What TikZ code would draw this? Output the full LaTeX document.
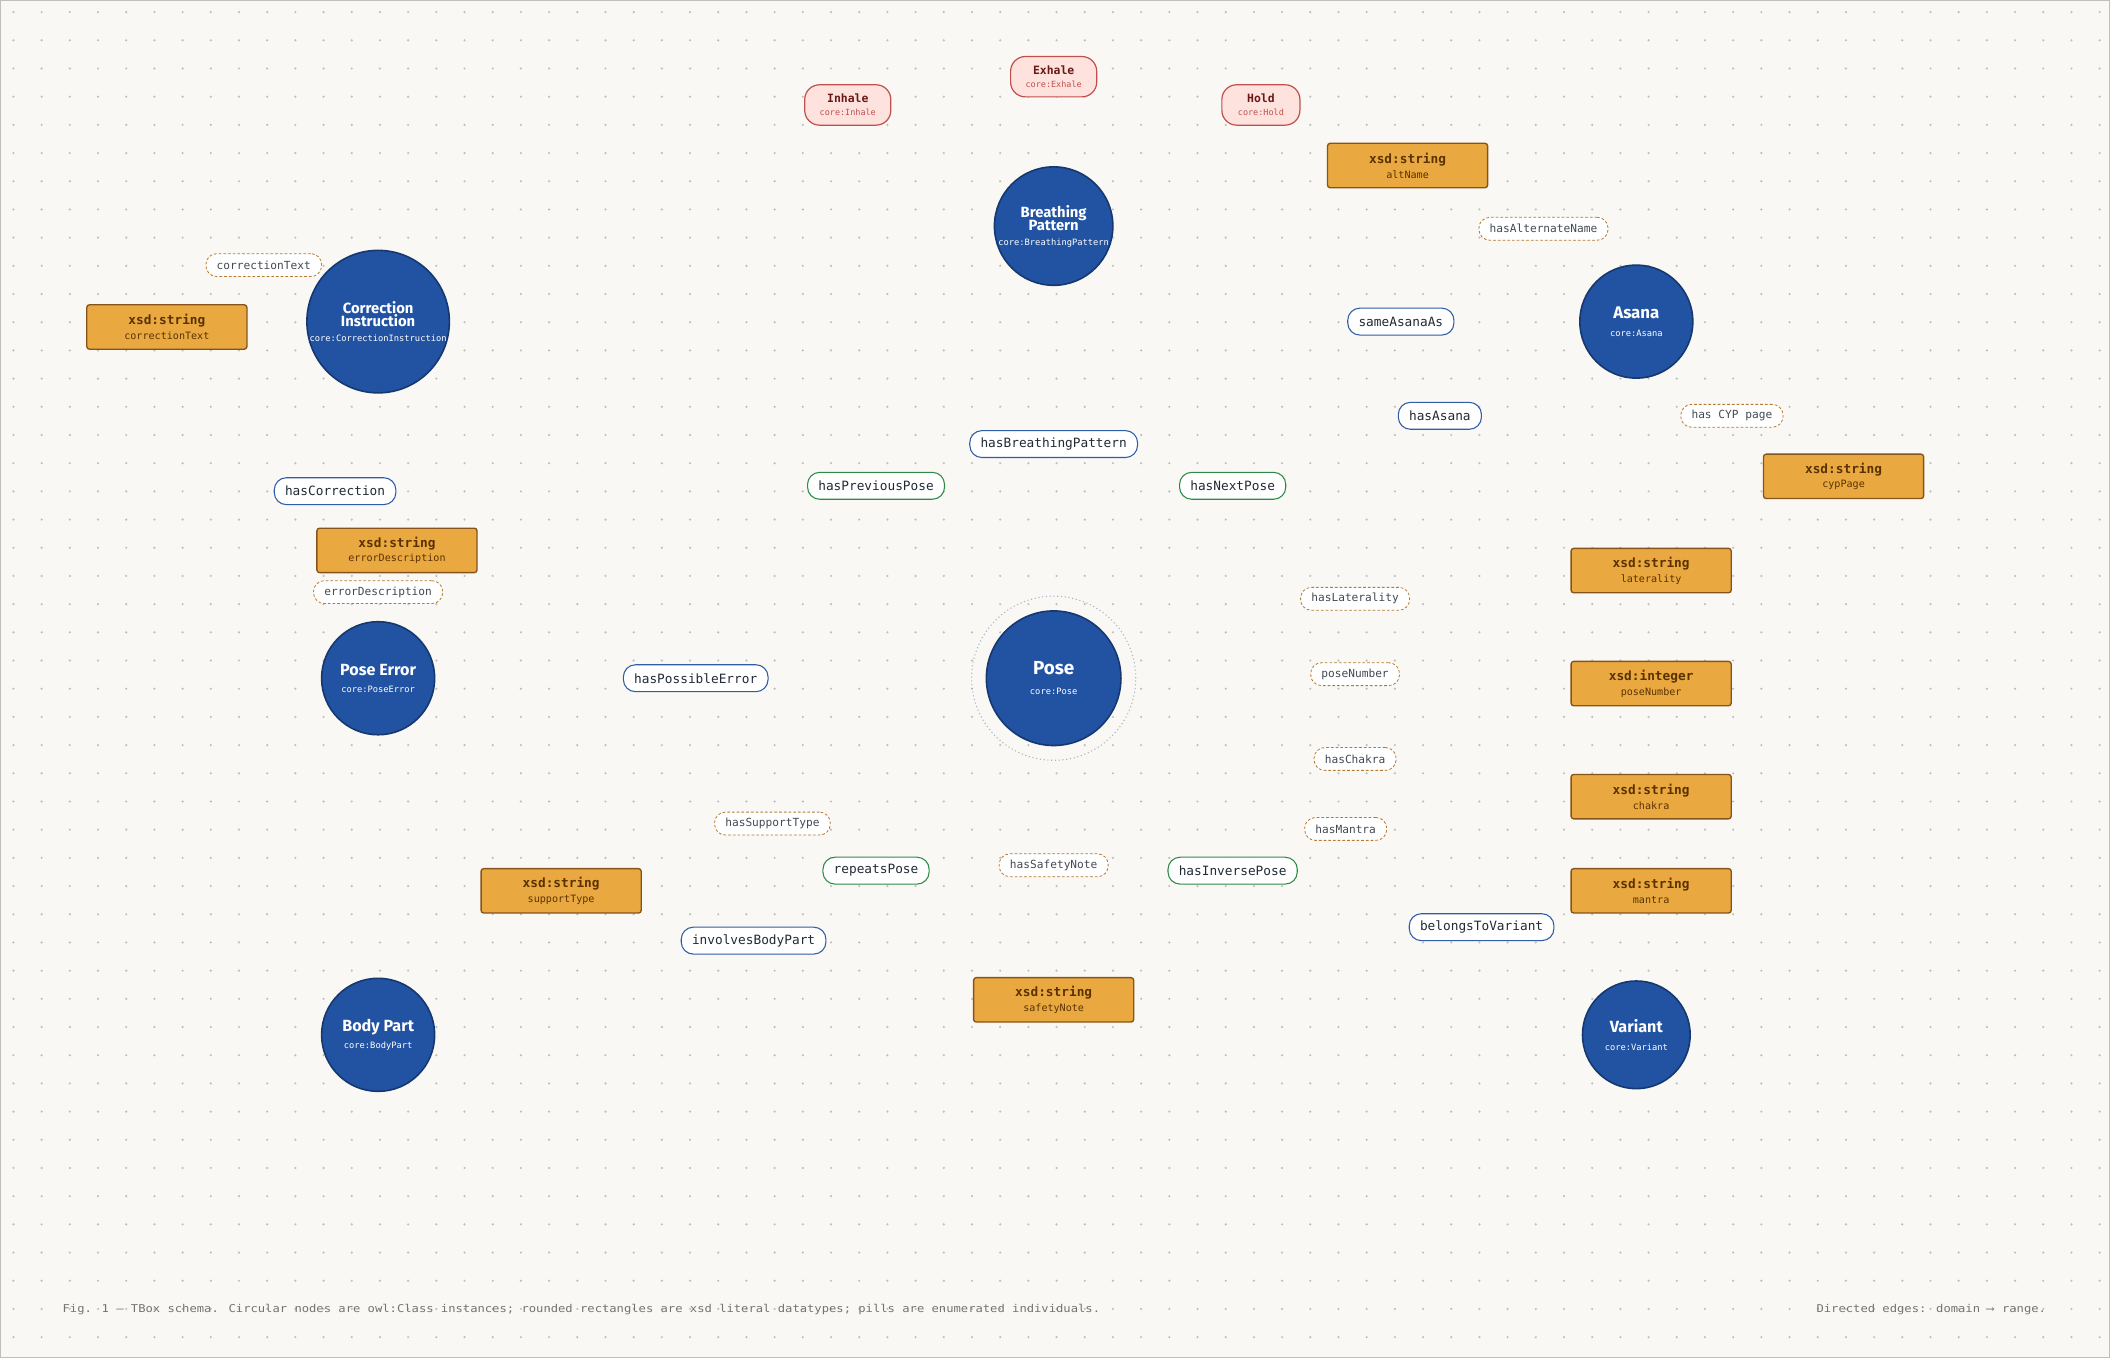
\documentclass[tikz,border=0pt]{standalone}
\usepackage{fontspec}
\setmainfont{DejaVu Sans Mono}
\newfontfamily\titlef{Fira Sans}
\newfontfamily\monof{DejaVu Sans Mono}
\usetikzlibrary{arrows.meta,backgrounds}
\definecolor{bgc}{HTML}{FAF8F4}
\definecolor{clsf}{HTML}{2253A3}
\definecolor{clsd}{HTML}{15386F}
\definecolor{litf}{HTML}{E9A940}
\definecolor{litd}{HTML}{86541A}
\definecolor{littx}{HTML}{5A3100}
\definecolor{edgb}{HTML}{2F5DA8}
\definecolor{edgg}{HTML}{2E8B47}
\definecolor{edgo}{HTML}{B57A30}
\definecolor{enf}{HTML}{FDE2DE}
\definecolor{end}{HTML}{C0504D}
\definecolor{entx}{HTML}{6A1A16}
\definecolor{txt}{HTML}{222A35}
\tikzset{
 cls/.style={circle,fill=clsf,draw=clsd,line width=1.2pt,text=white,inner sep=0pt,align=center,font=\titlef\bfseries\fontsize{11}{12}\selectfont},
 lit/.style={rectangle,rounded corners=2pt,fill=litf,draw=litd,line width=1pt,minimum width=119pt,minimum height=33pt,align=center,text=littx,inner sep=1pt},
 enum/.style={rectangle,rounded corners=11pt,fill=enf,draw=end,line width=0.9pt,minimum width=64pt,minimum height=30pt,align=center,text=entx,inner sep=1pt},
 lbl/.style={rectangle,rounded corners=9pt,fill=white,draw=edgb,line width=0.8pt,minimum height=20pt,inner xsep=8pt,text=txt,font=\monof\fontsize{9.5}{10}\selectfont},
 glbl/.style={lbl,draw=edgg},
 olbl/.style={rectangle,rounded corners=8pt,fill=white,draw=edgo,dashed,dash pattern=on 2pt off 1.5pt,line width=0.6pt,minimum height=17pt,inner xsep=8pt,text=txt!85,font=\monof\fontsize{8.3}{9}\selectfont},
 be/.style={draw=edgb,line width=1.1pt},
 ge/.style={draw=edgg,line width=1.1pt},
 oe/.style={draw=edgo,line width=1pt,dash pattern=on 3pt off 2.5pt},
 re/.style={draw=end,line width=1pt,dotted},
 tip/.style={-{Stealth[length=8pt,width=7pt]}},
}
\newcommand{\ctitle}[2]{#1\\[-1pt]{\monof\fontsize{6.5}{8}\selectfont\mdseries #2}}
\newcommand{\lt}[2]{{\bfseries\fontsize{9.5}{11}\selectfont #1}\\[-1pt]{\fontsize{7.5}{9}\selectfont #2}}
\newcommand{\en}[2]{{\bfseries\fontsize{8.5}{10}\selectfont #1}\\[-2pt]{\fontsize{6.3}{8}\selectfont\color{end} #2}}
\begin{document}
\begin{tikzpicture}[x=1pt,y=-1pt]
\useasboundingbox (0,0) rectangle (1568,1009);
\fill[bgc] (0,0) rectangle (1568,1009);
\draw[black!25,line width=0.8pt] (0.5,0.5) rectangle (1567.5,1008.5);
\foreach \i in {0,...,74}{\foreach \j in {0,...,47}{\fill[black!25] (10+\i*20.95,9+\j*20.95) circle (0.9pt);}}
% classes
\node[cls,minimum size=100pt,font=\titlef\bfseries\fontsize{14}{16}\selectfont] (pose) at (783,504) {\ctitle{Pose}{core:Pose}};
\draw[black!25!clsf!40,dotted,line width=0.8pt] (pose.center) circle (61pt);
\node[cls,minimum size=88pt] (bp) at (783,168) {\ctitle{Breathing\\[-2pt]Pattern}{core:BreathingPattern}};
\node[cls,minimum size=88pt] (corr) at (281,239) {\ctitle{Correction\\[-2pt]Instruction}{core:CorrectionInstruction}};
\node[cls,minimum size=84pt,font=\titlef\bfseries\fontsize{12.5}{14}\selectfont] (asana) at (1216,239) {\ctitle{Asana}{core:Asana}};
\node[cls,minimum size=84pt,font=\titlef\bfseries\fontsize{12}{14}\selectfont] (perr) at (281,504) {\ctitle{Pose Error}{core:PoseError}};
\node[cls,minimum size=84pt,font=\titlef\bfseries\fontsize{12}{14}\selectfont] (body) at (281,769) {\ctitle{Body Part}{core:BodyPart}};
\node[cls,minimum size=80pt,font=\titlef\bfseries\fontsize{12}{14}\selectfont] (var) at (1216,769) {\ctitle{Variant}{core:Variant}};
% enumerations
\node[enum] (inh) at (630,78) {\en{Inhale}{core:Inhale}};
\node[enum] (exh) at (783,57) {\en{Exhale}{core:Exhale}};
\node[enum,minimum width=58pt] (hold) at (937,78) {\en{Hold}{core:Hold}};
% literals
\node[lit] (alt) at (1046,123) {\lt{xsd:string}{altName}};
\node[lit] (ctext) at (124,243) {\lt{xsd:string}{correctionText}};
\node[lit] (edesc) at (295,409) {\lt{xsd:string}{errorDescription}};
\node[lit] (cyp) at (1370,354) {\lt{xsd:string}{cypPage}};
\node[lit] (lat) at (1227,424) {\lt{xsd:string}{laterality}};
\node[lit] (pnum) at (1227,508) {\lt{xsd:integer}{poseNumber}};
\node[lit] (chak) at (1227,592) {\lt{xsd:string}{chakra}};
\node[lit] (mant) at (1227,662) {\lt{xsd:string}{mantra}};
\node[lit] (supp) at (417,662) {\lt{xsd:string}{supportType}};
\node[lit] (safe) at (783,743) {\lt{xsd:string}{safetyNote}};
% edges
\begin{scope}[on background layer]
\draw[re] (bp.128) -- (inh.-30);
\draw[re] (bp.north) -- (exh.south);
\draw[re] (bp.52) -- (hold.-150);
\draw[be,tip] (pose) -- (bp);
\draw[be,tip] (pose) -- (perr);
\draw[be] (pose.45) -- (1070,309);
\draw[be,tip] (1070,309) to[out=25,in=205] (asana.213);
\draw[be,tip] (pose.226) to[out=218,in=17] (body.20);
\draw[be,tip] (pose.-38) to[out=-30,in=150] (var.140);
\draw[be,tip] (perr.105) to[out=100,in=-95] (249,365) to[out=85,in=-100] (corr.262);
\draw[be] (asana.152) .. controls (1140,200) and (1100,205) .. (1090,229);
\draw[be,tip] (1090,249) .. controls (1100,272) and (1140,270) .. (asana.200);
% green loops
\draw[ge,tip] (638,371) to[out=-85,in=150] (pose.151);
\draw[ge] (700,371) to[out=-60,in=125] (pose.133);
\draw[ge] (882,371) to[out=-120,in=55] (pose.47);
\draw[ge,tip] (930,371) to[out=-95,in=30] (pose.29);
\draw[ge,tip] (638,637) to[out=85,in=210] (pose.211);
\draw[ge] (658,637) to[out=40,in=235] (pose.226);
\draw[ge,tip] (930,637) to[out=95,in=-30] (pose.-29);
\draw[ge] (910,637) to[out=140,in=-55] (pose.-47);
% orange
\draw[oe,tip] (pose.10) -- (lat.west);
\draw[oe,tip] (pose.0) -- (pnum.west);
\draw[oe,tip] (pose.-10) -- (chak.west);
\draw[oe,tip] (pose.-24) -- (mant.west);
\draw[oe,tip] (pose.south) -- (safe.north);
\draw[oe] (pose.222) -- (supp.20);
\draw[oe] (ctext.east) -- (corr.west);
\draw[oe] (perr.north) -- (edesc.south);
\draw[oe] (alt.south east) -- (asana.125);
\draw[oe] (asana.-45) -- (cyp.north west);
\end{scope}
% labels
\node[lbl] (lhbp) at (783,330) {hasBreathingPattern};
\node[lbl] (lhc) at (249,365) {hasCorrection};
\node[lbl] (lhpe) at (517,504) {hasPossibleError};
\node[lbl] (lha) at (1070,309) {hasAsana};
\node[lbl] (lsa) at (1041,239) {sameAsanaAs};
\node[lbl] (libp) at (560,699) {involvesBodyPart};
\node[lbl] (lbtv) at (1101,689) {belongsToVariant};
\node[glbl] (lhpp) at (651,361) {hasPreviousPose};
\node[glbl] (lhnp) at (916,361) {hasNextPose};
\node[glbl] (lrp) at (651,647) {repeatsPose};
\node[glbl] (lhip) at (916,647) {hasInversePose};
\node[olbl] (lhan) at (1147,170) {hasAlternateName};
\node[olbl] (lcyp) at (1287,309) {has CYP page};
\node[olbl] (lct) at (196,197) {correctionText};
\node[olbl] (led) at (281,440) {errorDescription};
\node[olbl] (lhl) at (1007,445) {hasLaterality};
\node[olbl] (lpn) at (1007,501) {poseNumber};
\node[olbl] (lhch) at (1007,564) {hasChakra};
\node[olbl] (lhm) at (1000,616) {hasMantra};
\node[olbl] (lhst) at (574,612) {hasSupportType};
\node[olbl] (lhsn) at (783,643) {hasSafetyNote};
% footer
\node[anchor=west,text=black!55,font=\monof\fontsize{8}{9}\selectfont] (cap) at (43,973) {\scalebox{1.13}[1]{Fig. 1 — TBox schema. Circular nodes are owl:Class instances; rounded rectangles are xsd literal datatypes; pills are enumerated individuals.}};
\node[anchor=east,text=black!55,font=\monof\fontsize{8}{9}\selectfont] (cap2) at (1524,973) {\scalebox{1.13}[1]{Directed edges: domain → range.}};
\end{tikzpicture}
\end{document}
